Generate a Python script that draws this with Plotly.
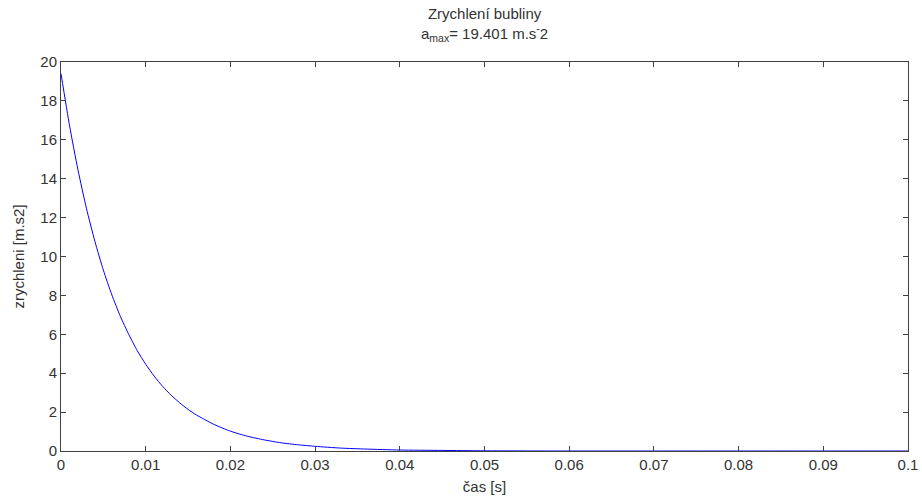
import plotly.graph_objects as go

# time [s] and acceleration [m/s^2]
t = [0.0, 0.001, 0.002, 0.003, 0.004, 0.005, 0.006, 0.007, 0.008, 0.009,
     0.010, 0.011, 0.012, 0.013, 0.014, 0.015, 0.016, 0.018, 0.020, 0.022,
     0.024, 0.026, 0.028, 0.030, 0.033, 0.036, 0.040, 0.045, 0.050, 0.060,
     0.070, 0.080, 0.090, 0.100]
a = [19.40, 16.75, 14.46, 12.48, 10.78, 9.30, 8.03, 6.93, 5.99, 5.16,
     4.46, 3.85, 3.32, 2.87, 2.48, 2.14, 1.85, 1.38, 1.02, 0.76,
     0.57, 0.42, 0.32, 0.24, 0.15, 0.10, 0.05, 0.03, 0.01, 0.0,
     0.0, 0.0, 0.0, 0.0]

x_ticks = [0, 0.01, 0.02, 0.03, 0.04, 0.05, 0.06, 0.07, 0.08, 0.09, 0.1]
x_tick_labels = ["0", "0.01", "0.02", "0.03", "0.04", "0.05", "0.06", "0.07", "0.08", "0.09", "0.1"]
y_ticks = [0, 2, 4, 6, 8, 10, 12, 14, 16, 18, 20]

title_text = "Zrychlení bubliny<br>a<sub>max</sub>= 19.401 m.s<sup>-</sup>2"

font = "Liberation Sans, Arial, sans-serif"
fcol = "#333333"
fsize = 15

fig = go.Figure()
fig.add_trace(go.Scatter(x=t, y=a, mode="lines",
                         line=dict(color="#0000ff", width=1, shape="spline", smoothing=0.6),
                         showlegend=False, hoverinfo="skip"))

axis_common = dict(showgrid=False, zeroline=False, showline=True, linecolor="#404040", linewidth=1,
                   mirror="ticks", ticks="inside", ticklen=5, tickcolor="#404040", tickwidth=1,
                   automargin=False,
                   tickfont=dict(family=font, size=fsize, color=fcol))

fig.update_layout(
    width=922, height=498,
    margin=dict(l=61, r=14, t=62, b=47),
    paper_bgcolor="white", plot_bgcolor="white",
    font=dict(family=font, size=fsize, color=fcol),
    xaxis=dict(range=[0, 0.1], tickvals=x_ticks, ticktext=x_tick_labels,
               title=dict(text="čas [s]", standoff=9, font=dict(family=font, size=fsize, color=fcol)),
               **axis_common),
    yaxis=dict(range=[0, 20], tickvals=y_ticks,
               title=dict(text="zrychleni [m.s2]", standoff=12, font=dict(family=font, size=fsize, color=fcol)),
               **axis_common),
    annotations=[dict(text=title_text, xref="paper", yref="paper", x=0.5, y=1 + (62 - 3) / 389,
                      xanchor="center", yanchor="top", showarrow=False, align="center",
                      font=dict(family=font, size=fsize, color=fcol))],
)

fig.write_html("out.html")
